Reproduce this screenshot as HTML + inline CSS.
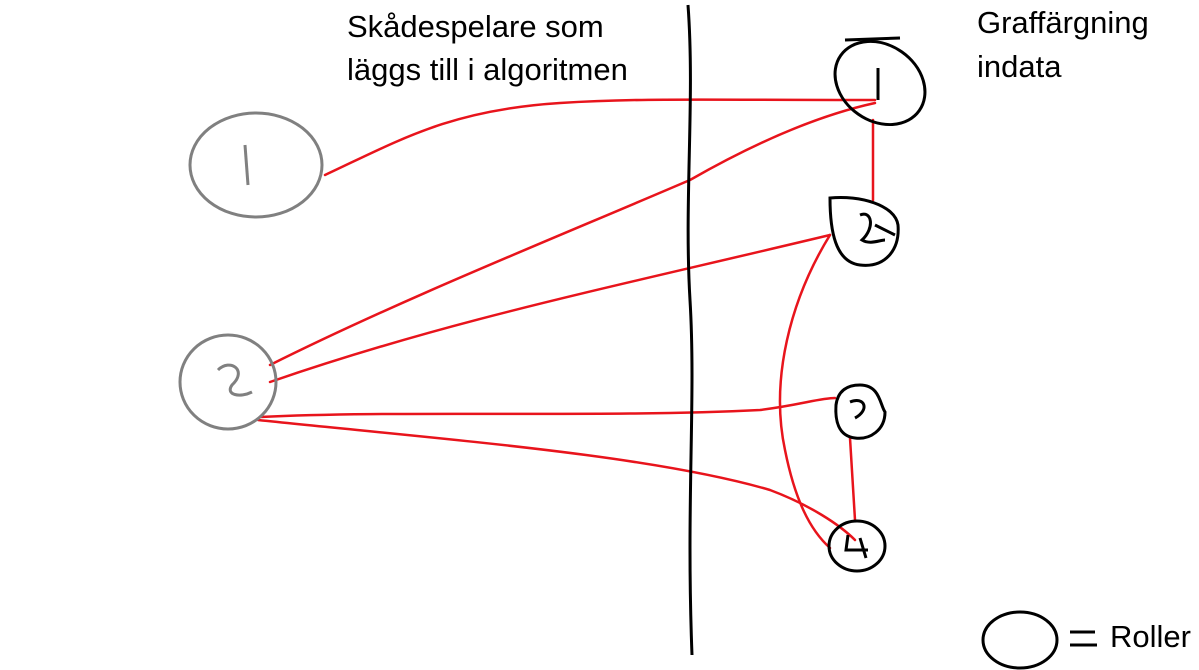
<!DOCTYPE html>
<html><head><meta charset="utf-8"><style>
html,body{margin:0;padding:0;background:#fff;}
svg{display:block;}
text{font-family:"Liberation Sans",sans-serif;font-size:31px;fill:#000;}
</style></head><body>
<svg width="1199" height="670" viewBox="0 0 1199 670">
<g fill="none" stroke="#e8141c" stroke-width="2.5" stroke-linecap="round">
<path d="M325 175 C400 140 450 110 560 103 C640 98 700 100 875 100"/>
<path d="M270 365 C400 300 550 240 690 180 C760 140 820 115 875 103"/>
<path d="M270 382 C450 320 600 290 830 235"/>
<path d="M260 417 C400 410 600 418 760 410 C800 405 820 398 835 398"/>
<path d="M258 420 C450 440 650 455 770 490 C810 505 840 525 855 540"/>
<path d="M873 120 L873 200"/>
<path d="M830 235 C790 300 770 380 785 450 C795 500 810 530 830 548"/>
<path d="M850 438 L855 520"/>
</g>
<path d="M688 5 C695 100 684 200 690 300 C696 400 686 500 692 655" fill="none" stroke="#000" stroke-width="3"/>
<g fill="none" stroke="#808080" stroke-width="3">
<ellipse cx="256" cy="165" rx="66" ry="52"/>
<path d="M245 145 L248 185"/>
<ellipse cx="228" cy="382" rx="48" ry="47"/>
<path d="M218 370 C230 358 248 370 232 385 C225 395 240 398 252 392"/>
</g>
<g fill="none" stroke="#000" stroke-width="3">
<ellipse cx="880" cy="83" rx="48" ry="38" transform="rotate(35 880 83)"/>
<path d="M878 68 L878 100 M845 40 L900 38"/>
<path d="M830 198 C860 195 895 205 898 225 C900 250 885 268 860 265 C835 262 830 230 830 198 Z"/>
<path d="M860 215 C872 210 875 228 862 240 C870 245 880 240 885 240 M875 225 L895 235"/>
<path d="M860 385 C880 385 880 405 885 412 C885 430 870 440 855 438 C838 436 835 420 836 405 C838 390 848 385 860 385 Z"/>
<path d="M850 402 C865 396 870 410 855 418"/>
<ellipse cx="857" cy="546" rx="28" ry="25"/>
<path d="M848 535 L846 550 L868 550 M860 538 L866 558"/>
<ellipse cx="1020" cy="640" rx="37" ry="28"/>
<path d="M1070 632 L1095 632 M1070 645 L1097 645"/>
</g>
<text x="347" y="37">Skådespelare som</text>
<text x="347" y="80">läggs till i algoritmen</text>
<text x="977" y="33">Graffärgning</text>
<text x="977" y="77">indata</text>
<text x="1110" y="647">Roller</text>
</svg>
</body></html>
